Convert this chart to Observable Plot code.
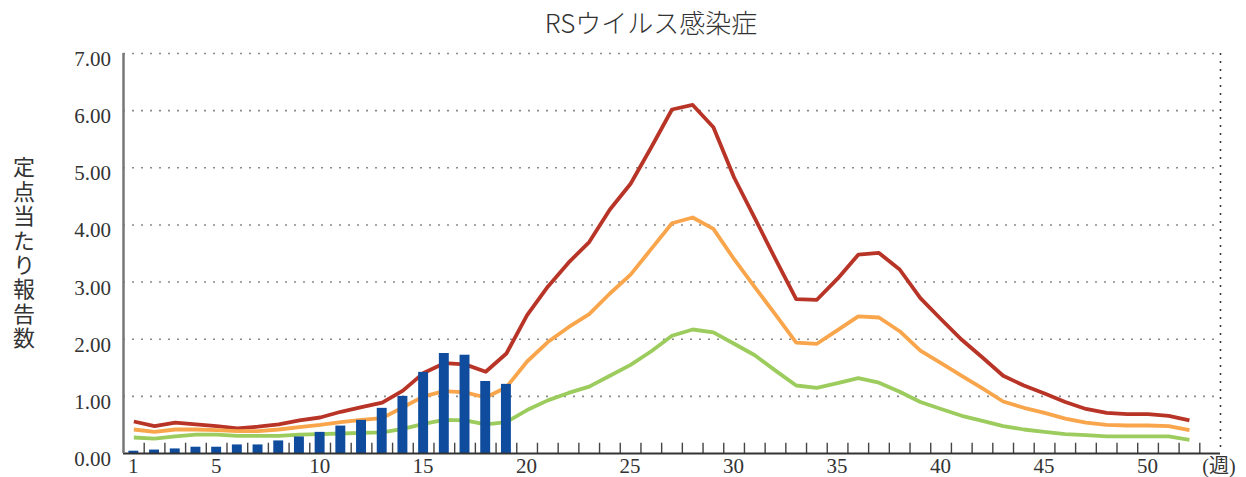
<!DOCTYPE html>
<html><head><meta charset="utf-8">
<script src="https://cdn.jsdelivr.net/npm/d3@7"></script>
<script src="https://cdn.jsdelivr.net/npm/@observablehq/plot@0.6"></script>
<style>
html,body{margin:0;padding:0;background:#fff;}
#wrap{position:relative;width:1246px;height:477px;overflow:hidden;background:#fff;}
#title{position:absolute;left:451px;width:400px;top:3px;text-align:center;font-family:"Noto Sans CJK JP";font-size:26px;font-weight:300;color:#333;line-height:38px;}
#ytitle{position:absolute;left:12px;top:156px;writing-mode:vertical-rl;text-orientation:upright;font-family:"Noto Sans CJK JP";font-size:22px;font-weight:400;letter-spacing:2.4px;color:#333;line-height:24px;}
#chart{position:absolute;left:0;top:0;}
.lbl{position:absolute;font-family:'Liberation Serif','Noto Sans CJK JP',serif;font-size:21px;line-height:21px;height:21px;color:#333;white-space:nowrap;}
</style>
</head><body>
<div id="wrap">
  <div id="chart"></div>
  <div id="title">RSウイルス感染症</div>
  <div id="ytitle">定点当たり報告数</div>
</div>
<script>
// weeks 1..52
const weeks = d3.range(1, 53);

// current-year bars (weeks 1-19)
const barWeeks = d3.range(1, 20);
const barValues = [0.04,0.06,0.08,0.11,0.11,0.15,0.15,0.22,0.29,0.37,0.48,0.58,0.79,1.00,1.42,1.75,1.72,1.26,1.21];

// reference lines (weeks 1-52)
const redValues = [0.56,0.48,0.54,0.51,0.48,0.44,0.47,0.51,0.58,0.63,0.73,0.81,0.89,1.10,1.41,1.58,1.56,1.43,1.75,
  2.42,2.92,3.34,3.70,4.27,4.72,5.36,6.02,6.10,5.71,
  4.83,4.12,3.40,2.70,2.69,3.06,3.48,3.51,3.22,2.72,
  2.35,1.99,1.68,1.36,1.19,1.05,0.90,0.78,0.71,0.69,
  0.69,0.66,0.58];
const orangeValues = [0.42,0.38,0.42,0.42,0.41,0.39,0.39,0.42,0.46,0.50,0.55,0.59,0.62,0.81,1.00,1.09,1.07,0.98,1.16,
  1.61,1.95,2.21,2.44,2.80,3.13,3.58,4.03,4.13,3.93,
  3.40,2.91,2.43,1.94,1.92,2.16,2.40,2.38,2.14,1.80,
  1.58,1.36,1.14,0.91,0.80,0.71,0.61,0.54,0.50,0.49,
  0.49,0.48,0.41];
const greenValues = [0.28,0.26,0.30,0.33,0.33,0.31,0.31,0.31,0.33,0.34,0.35,0.36,0.37,0.43,0.52,0.59,0.58,0.51,0.55,
  0.76,0.93,1.06,1.17,1.36,1.55,1.79,2.06,2.17,2.12,
  1.92,1.72,1.45,1.19,1.15,1.23,1.32,1.24,1.08,0.90,
  0.78,0.66,0.57,0.48,0.42,0.38,0.34,0.32,0.30,0.30,
  0.30,0.30,0.24];

const seriesNames = ["line1", "line2", "line3"];
const seriesColors = ["#b83426", "#f9a54b", "#9dcc5e"];

// axis tick labels
const yTicks = [0,1,2,3,4,5,6,7];
const yTickLabels = ["0.00","1.00","2.00","3.00","4.00","5.00","6.00","7.00"];
const xTickWeeks = [1,5,10,15,20,25,30,35,40,45,50];
const xUnitLabel = "(週)";
const xUnitPos = 53.45;

const lineRows = [];
[redValues, orangeValues, greenValues].forEach((vals, i) => {
  vals.forEach((v, j) => lineRows.push({week: weeks[j], value: v, series: seriesNames[i]}));
});
const barRows = barWeeks.map((w, i) => ({week: w, value: barValues[i]}));
const tickBoundaries = weeks.map(w => w + 0.5);

const chart = Plot.plot({
  width: 1246, height: 477,
  marginLeft: 123, marginRight: 26, marginTop: 53, marginBottom: 24,
  x: {domain: [0.5, 53.5], axis: null},
  y: {domain: [0, 7], axis: null},
  color: {domain: seriesNames, range: seriesColors},
  style: {background: "#fff", overflow: "visible"},
  marks: [
    Plot.ruleY(yTicks.slice(1), {stroke: "#8a8a8a", strokeWidth: 1.6, strokeDasharray: "2,7"}),
    Plot.ruleX([53.5], {stroke: "#333", strokeWidth: 1.5, strokeDasharray: "2,6"}),
    Plot.line(lineRows, {x: "week", y: "value", z: "series", stroke: "series", strokeWidth: 3.8, strokeLinejoin: "round", strokeLinecap: "butt"}),
    Plot.rectY(barRows, {x1: d => d.week - 0.24, x2: d => d.week + 0.24, y: "value", fill: "#0f4c9e"}),
    Plot.ruleX(tickBoundaries, {y1: 0, y2: 0.18, stroke: "#444", strokeWidth: 1.4}),
    Plot.ruleY([0], {stroke: "#333", strokeWidth: 2}),
    Plot.ruleX([0.5], {stroke: "#777", strokeWidth: 2.5})
  ]
});
document.getElementById("chart").appendChild(chart);

// axis labels placed with the chart's own scales
const xs = chart.scale("x"), ys = chart.scale("y");
const wrap = d3.select("#wrap");
const x0 = xs.apply(0.5);
yTicks.forEach((v, i) => {
  wrap.append("div").attr("class", "lbl")
    .style("right", (1246 - (x0 - 12)) + "px")
    .style("top", (ys.apply(v) + 6.5 - 10.5) + "px")
    .text(yTickLabels[i]);
});
const yBase = ys.apply(0);
xTickWeeks.forEach(w => {
  wrap.append("div").attr("class", "lbl")
    .style("left", xs.apply(w) + "px")
    .style("top", (yBase + 13.5 - 10.5) + "px")
    .style("transform", "translateX(-50%)")
    .text(String(w));
});
wrap.append("div").attr("class", "lbl")
  .style("left", xs.apply(xUnitPos) + "px")
  .style("top", (yBase + 13.5 - 10.5) + "px")
  .style("font-size", "20px")
  .style("transform", "translateX(-50%)")
  .text(xUnitLabel);
</script>
</body></html>
